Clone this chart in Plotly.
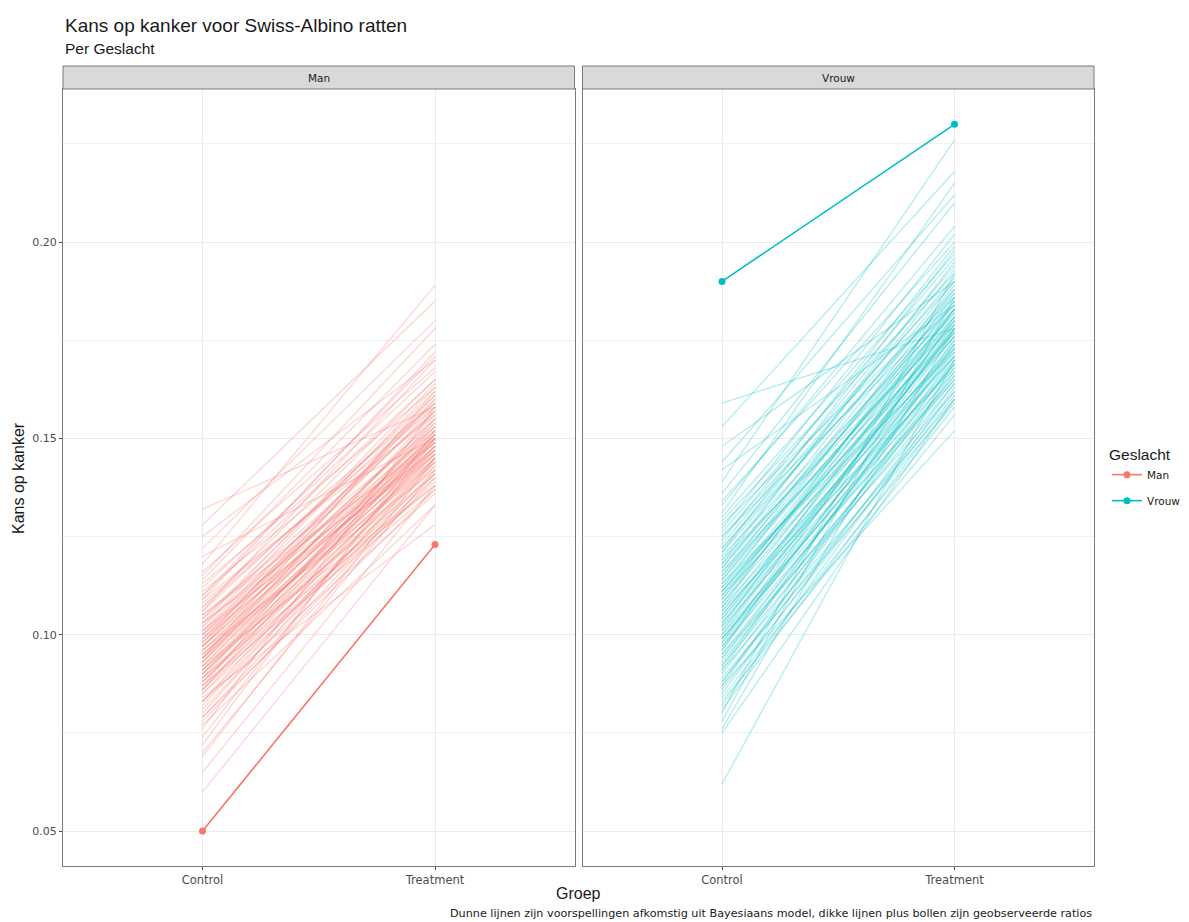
import plotly.graph_objects as go
from plotly.subplots import make_subplots

groups = ["Control", "Treatment"]
sexes = ["Man", "Vrouw"]
colors = {"Man": "#F8766D", "Vrouw": "#00BFC4"}

observed_man = [0.050, 0.123]
observed_vrouw = [0.190, 0.230]

man_ctrl = [
    0.094, 0.108, 0.087, 0.101, 0.079, 0.113, 0.098, 0.091, 0.105, 0.083,
    0.097, 0.120, 0.089, 0.102, 0.074, 0.096, 0.110, 0.085, 0.093, 0.099,
    0.132, 0.088, 0.104, 0.078, 0.095, 0.116, 0.090, 0.083, 0.107, 0.100,
    0.069, 0.092, 0.111, 0.086, 0.098, 0.103, 0.081, 0.094, 0.125, 0.089,
    0.097, 0.106, 0.076, 0.092, 0.101, 0.114, 0.087, 0.095, 0.084, 0.109,
    0.060, 0.099, 0.091, 0.103, 0.080, 0.096, 0.118, 0.088, 0.093, 0.105,
    0.072, 0.100, 0.086, 0.097, 0.112, 0.090, 0.082, 0.107, 0.094, 0.128,
    0.098, 0.085, 0.102, 0.077, 0.093, 0.109, 0.089, 0.096, 0.065, 0.104,
    0.091, 0.115, 0.087, 0.099, 0.083, 0.106, 0.095, 0.122, 0.088, 0.101,
    0.079, 0.097, 0.092, 0.110, 0.086, 0.103, 0.070, 0.094, 0.100, 0.090,
]
man_trt = [
    0.148, 0.158, 0.141, 0.152, 0.137, 0.163, 0.155, 0.146, 0.149, 0.143,
    0.160, 0.150, 0.138, 0.157, 0.150, 0.151, 0.171, 0.145, 0.153, 0.147,
    0.158, 0.150, 0.162, 0.140, 0.144, 0.168, 0.152, 0.136, 0.165, 0.154,
    0.145, 0.149, 0.159, 0.147, 0.161, 0.150, 0.142, 0.156, 0.170, 0.143,
    0.148, 0.170, 0.158, 0.151, 0.146, 0.174, 0.155, 0.150, 0.128, 0.156,
    0.133, 0.158, 0.141, 0.164, 0.145, 0.149, 0.189, 0.146, 0.157, 0.153,
    0.152, 0.160, 0.140, 0.152, 0.167, 0.148, 0.144, 0.159, 0.145, 0.185,
    0.151, 0.139, 0.163, 0.133, 0.147, 0.172, 0.154, 0.142, 0.138, 0.157,
    0.150, 0.178, 0.137, 0.155, 0.148, 0.161, 0.146, 0.180, 0.144, 0.159,
    0.141, 0.153, 0.138, 0.165, 0.151, 0.147, 0.142, 0.162, 0.149, 0.145,
]
vrouw_ctrl = [
    0.108, 0.121, 0.095, 0.114, 0.088, 0.130, 0.103, 0.117, 0.099, 0.125,
    0.084, 0.111, 0.142, 0.097, 0.106, 0.119, 0.091, 0.128, 0.101, 0.113,
    0.076, 0.109, 0.124, 0.093, 0.116, 0.104, 0.136, 0.087, 0.110, 0.098,
    0.159, 0.118, 0.082, 0.107, 0.122, 0.094, 0.112, 0.100, 0.131, 0.089,
    0.115, 0.105, 0.078, 0.120, 0.096, 0.127, 0.102, 0.085, 0.111, 0.148,
    0.092, 0.117, 0.106, 0.123, 0.080, 0.099, 0.114, 0.134, 0.090, 0.108,
    0.062, 0.103, 0.119, 0.097, 0.126, 0.086, 0.112, 0.101, 0.139, 0.094,
    0.110, 0.121, 0.083, 0.105, 0.116, 0.098, 0.129, 0.091, 0.107, 0.153,
    0.075, 0.113, 0.100, 0.122, 0.088, 0.109, 0.118, 0.095, 0.133, 0.104,
    0.081, 0.115, 0.096, 0.125, 0.102, 0.092, 0.111, 0.144, 0.099, 0.087,
]
vrouw_trt = [
    0.176, 0.188, 0.169, 0.181, 0.162, 0.197, 0.171, 0.190, 0.165, 0.184,
    0.158, 0.183, 0.184, 0.174, 0.168, 0.193, 0.160, 0.186, 0.178, 0.172,
    0.178, 0.185, 0.199, 0.166, 0.177, 0.180, 0.210, 0.170, 0.173, 0.179,
    0.178, 0.182, 0.163, 0.187, 0.191, 0.171, 0.176, 0.167, 0.215, 0.159,
    0.189, 0.174, 0.186, 0.183, 0.181, 0.202, 0.169, 0.164, 0.178, 0.190,
    0.173, 0.185, 0.180, 0.194, 0.192, 0.172, 0.186, 0.200, 0.168, 0.183,
    0.170, 0.176, 0.179, 0.166, 0.196, 0.161, 0.188, 0.175, 0.226, 0.165,
    0.181, 0.198, 0.156, 0.177, 0.184, 0.170, 0.192, 0.174, 0.171, 0.218,
    0.160, 0.182, 0.178, 0.187, 0.167, 0.179, 0.195, 0.162, 0.204, 0.173,
    0.160, 0.180, 0.175, 0.190, 0.183, 0.164, 0.177, 0.212, 0.169, 0.152,
]

title = "Kans op kanker voor Swiss-Albino ratten"
subtitle = "Per Geslacht"
caption = "Dunne lijnen zijn voorspellingen afkomstig uit Bayesiaans model, dikke lijnen plus bollen zijn geobserveerde ratios"

FONT = "Liberation Sans, Arial, sans-serif"
SMALL = "DejaVu Sans, sans-serif"

# page is offset by the 8px body margin
OFF = 8
W, H = 1189 - OFF, 922 - OFF
ml, mt = 63 - OFF, 89 - OFF
mr = W - (1094 - OFF)
mb = H - (866 - OFF)
pw = W - ml - mr
ph = H - mt - mb


def px(x):
    return (x - OFF - ml) / pw


def py(y):
    return (H - mb - (y - OFF)) / ph


fig = make_subplots(rows=1, cols=2, shared_yaxes=True,
                    horizontal_spacing=8 / pw)


def rgba(hexc, a):
    h = hexc.lstrip("#")
    return "rgba(%d,%d,%d,%s)" % (int(h[0:2], 16), int(h[2:4], 16), int(h[4:6], 16), a)


samples = {"Man": (man_ctrl, man_trt), "Vrouw": (vrouw_ctrl, vrouw_trt)}
observed = {"Man": observed_man, "Vrouw": observed_vrouw}

for col, sex in enumerate(sexes, start=1):
    ctrl, trt = samples[sex]
    for c, t in zip(ctrl, trt):
        fig.add_trace(go.Scatter(
            x=groups, y=[c, t], mode="lines",
            line=dict(color=rgba(colors[sex], 0.3), width=1.3),
            showlegend=False, hoverinfo="skip"), row=1, col=col)

for col, sex in enumerate(sexes, start=1):
    fig.add_trace(go.Scatter(
        x=groups, y=observed[sex], mode="lines+markers", name=sex,
        line=dict(color=colors[sex], width=1.6),
        marker=dict(color=colors[sex], size=7),
        legendgroup=sex, showlegend=True), row=1, col=col)

grid = "#EBEBEB"
border = "#7a7a7a"
for col in (1, 2):
    fig.update_xaxes(type="category", categoryorder="array", categoryarray=groups,
                     range=[-0.6, 1.6], showgrid=True, gridcolor=grid, gridwidth=1,
                     showline=True, linecolor=border, linewidth=1, mirror=True,
                     ticks="outside", ticklen=3, tickcolor="#4d4d4d",
                     tickfont=dict(family=SMALL, size=11.5, color="#4d4d4d"),
                     zeroline=False, row=1, col=col)
    fig.update_yaxes(range=[0.0411, 0.239], tick0=0.05, dtick=0.05, tickformat=".2f",
                     showgrid=True, gridcolor=grid, gridwidth=1,
                     minor=dict(tick0=0.075, dtick=0.05, showgrid=True, gridcolor="#F2F2F2", gridwidth=1),
                     showline=True, linecolor=border, linewidth=1, mirror=True,
                     ticks="outside" if col == 1 else "", ticklen=3, tickcolor="#4d4d4d",
                     tickfont=dict(family=SMALL, size=11, color="#4d4d4d"),
                     zeroline=False, row=1, col=col)

d1 = fig.layout.xaxis.domain
d2 = fig.layout.xaxis2.domain

annotations = [
    dict(text=title, x=px(63), y=py(25), xref="paper", yref="paper",
         xanchor="left", yanchor="middle", showarrow=False,
         font=dict(family=FONT, size=19, color="#1a1a1a")),
    dict(text=subtitle, x=px(63), y=py(48), xref="paper", yref="paper",
         xanchor="left", yanchor="middle", showarrow=False,
         font=dict(family=FONT, size=15.5, color="#1a1a1a")),
    dict(text="Groep", x=(d1[0] + d2[1]) / 2, y=py(893), xref="paper", yref="paper",
         xanchor="center", yanchor="middle", showarrow=False,
         font=dict(family=FONT, size=16, color="#1a1a1a")),
    dict(text="Kans op kanker", x=px(19), y=py(478), xref="paper", yref="paper",
         xanchor="center", yanchor="middle", showarrow=False, textangle=-90,
         font=dict(family=FONT, size=16, color="#1a1a1a")),
    dict(text=caption, x=1, y=py(913), xref="paper", yref="paper",
         xanchor="right", yanchor="middle", showarrow=False,
         font=dict(family=SMALL, size=11.2, color="#1a1a1a")),
]
shapes = []
strip_top = py(66)
for d, sex in ((d1, "Man"), (d2, "Vrouw")):
    shapes.append(dict(type="rect", xref="paper", yref="paper",
                       x0=d[0], x1=d[1], y0=1, y1=strip_top,
                       fillcolor="#D9D9D9", line=dict(color=border, width=1)))
    annotations.append(dict(text=sex, x=(d[0] + d[1]) / 2, y=(1 + strip_top) / 2,
                            xref="paper", yref="paper", xanchor="center", yanchor="middle",
                            showarrow=False, font=dict(family=SMALL, size=10.5, color="#1a1a1a")))

fig.update_layout(
    width=W, height=H,
    margin=dict(l=ml, r=mr, t=mt, b=mb),
    paper_bgcolor="white", plot_bgcolor="white",
    font=dict(family=FONT),
    annotations=annotations, shapes=shapes,
    legend=dict(title=dict(text="Geslacht", font=dict(family=FONT, size=15.5, color="#1a1a1a")),
                xref="container", yref="container",
                x=(1107 - OFF) / W, y=(H - (440 - OFF)) / H, xanchor="left", yanchor="top",
                font=dict(family=SMALL, size=10.5, color="#1a1a1a"),
                bgcolor="rgba(0,0,0,0)", itemwidth=30, tracegroupgap=7),
    showlegend=True,
)

fig.write_html("out.html")
